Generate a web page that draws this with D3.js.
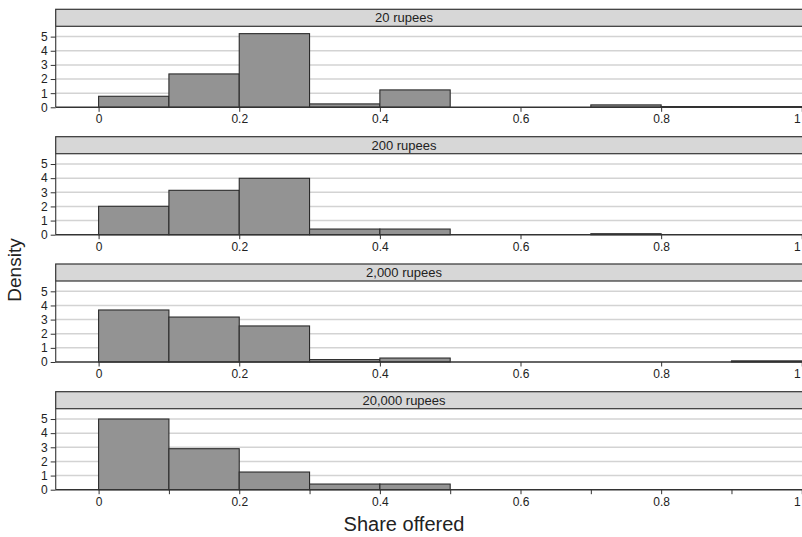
<!DOCTYPE html>
<html>
<head>
<meta charset="utf-8">
<script src="https://cdn.jsdelivr.net/npm/d3@7"></script>
<style>
  html, body { margin: 0; padding: 0; background: #fff; }
  svg { display: block; font-family: "Liberation Sans", Arial, Helvetica, sans-serif; }
</style>
</head>
<body>
<svg id="chart" width="802" height="537"></svg>
<script>
// ---- data ----
const panelLabels = ["20 rupees", "200 rupees", "2,000 rupees", "20,000 rupees"];
const binStarts = [0, 0.1, 0.2, 0.3, 0.4, 0.5, 0.6, 0.7, 0.8, 0.9];
const binWidth = 0.1;
const density20 = [0.78, 2.36, 5.21, 0.24, 1.23, 0, 0, 0.17, 0.05, 0.05];
const density200 = [2.01, 3.14, 3.99, 0.40, 0.40, 0, 0, 0.07, 0, 0];
const density2000 = [3.68, 3.18, 2.55, 0.17, 0.28, 0, 0, 0, 0, 0.08];
const density20000 = [5.00, 2.90, 1.25, 0.40, 0.40, 0, 0, 0, 0, 0];
const panelValues = [density20, density200, density2000, density20000];
const xTickValues = [0, 0.2, 0.4, 0.6, 0.8, 1];
const xMinorTicks = [0.1, 0.3, 0.5, 0.7, 0.9];
const yTickValues = [0, 1, 2, 3, 4, 5];
const xTitle = "Share offered";
const yTitle = "Density";

// ---- layout ----
const svg = d3.select("#chart");
const plotLeft = 55.7;
const x = d3.scaleLinear().domain([-0.061, 1.06]).range([plotLeft, plotLeft + 1.121 * 703.2]);
const plotRight = x(1.06);
const panelTops = [9.3, 136.7, 264.0, 391.7];
const stripH = 17;
const plotH = 81;

panelTops.forEach((top, i) => {
  const g = svg.append("g");
  const pTop = top + stripH;
  const pBot = pTop + plotH;
  const y = d3.scaleLinear().domain([0, 5.73]).range([pBot, pTop]);

  // strip
  g.append("rect")
    .attr("x", plotLeft).attr("y", top)
    .attr("width", plotRight - plotLeft).attr("height", stripH)
    .attr("fill", "#d7d7d7").attr("stroke", "#333").attr("stroke-width", 1.2);
  g.append("text")
    .attr("x", 404).attr("y", top + 13)
    .attr("text-anchor", "middle").attr("font-size", 13).attr("fill", "#222")
    .text(panelLabels[i]);

  // gridlines
  g.append("g").selectAll("line")
    .data(yTickValues.filter(v => v > 0))
    .join("line")
    .attr("x1", plotLeft).attr("x2", plotRight)
    .attr("y1", d => y(d)).attr("y2", d => y(d))
    .attr("stroke", "#d3d3d3").attr("stroke-width", 1.5);

  // bars
  const data = binStarts.map((s, k) => ({ x0: s, x1: s + binWidth, v: panelValues[i][k] }))
    .filter(d => d.v > 0);
  g.append("g").selectAll("rect")
    .data(data)
    .join("rect")
    .attr("x", d => x(d.x0)).attr("width", d => x(d.x1) - x(d.x0))
    .attr("y", d => y(d.v)).attr("height", d => y(0) - y(d.v))
    .attr("fill", "#939393").attr("stroke", "#2b2b2b").attr("stroke-width", 1.1);

  // left border
  g.append("line")
    .attr("x1", plotLeft).attr("x2", plotLeft)
    .attr("y1", pTop).attr("y2", pBot)
    .attr("stroke", "#444").attr("stroke-width", 1.2);

  // y axis
  const ya = g.append("g").attr("transform", `translate(${plotLeft},0)`)
    .call(d3.axisLeft(y).tickValues(yTickValues).tickFormat(d3.format("d")).tickSize(5).tickPadding(3));
  ya.select(".domain").remove();
  ya.selectAll(".tick line").attr("stroke", "#333").attr("stroke-width", 1);
  ya.selectAll(".tick text").attr("font-size", 12).attr("fill", "#222")
    .attr("font-family", "'Liberation Sans', Arial, sans-serif");

  // x axis
  const xa = g.append("g").attr("transform", `translate(0,${pBot})`)
    .call(d3.axisBottom(x).tickValues(xTickValues).tickFormat(d3.format("")).tickSize(4.5).tickPadding(3));
  xa.select(".domain").attr("d", `M${plotLeft},0H${plotRight}`).attr("stroke", "#333").attr("stroke-width", 1.6);
  xa.selectAll(".tick line").attr("stroke", "#333").attr("stroke-width", 1);
  xa.selectAll(".tick text").attr("font-size", 12).attr("fill", "#222")
    .attr("font-family", "'Liberation Sans', Arial, sans-serif")
    .filter(d => d === 1).attr("text-anchor", "end").attr("dx", -1.5);
  if (i === 3) {
    const xm = g.append("g").attr("transform", `translate(0,${pBot})`)
      .call(d3.axisBottom(x).tickValues(xMinorTicks).tickFormat("").tickSize(4.5));
    xm.select(".domain").remove();
    xm.selectAll(".tick line").attr("stroke", "#333").attr("stroke-width", 1);
  }
});

// axis titles
svg.append("text")
  .attr("transform", "translate(21,270) rotate(-90)")
  .attr("text-anchor", "middle").attr("font-size", 19).attr("fill", "#222")
  .text(yTitle);
svg.append("text")
  .attr("x", 404).attr("y", 531)
  .attr("text-anchor", "middle").attr("font-size", 20).attr("fill", "#222")
  .text(xTitle);
</script>
</body>
</html>
